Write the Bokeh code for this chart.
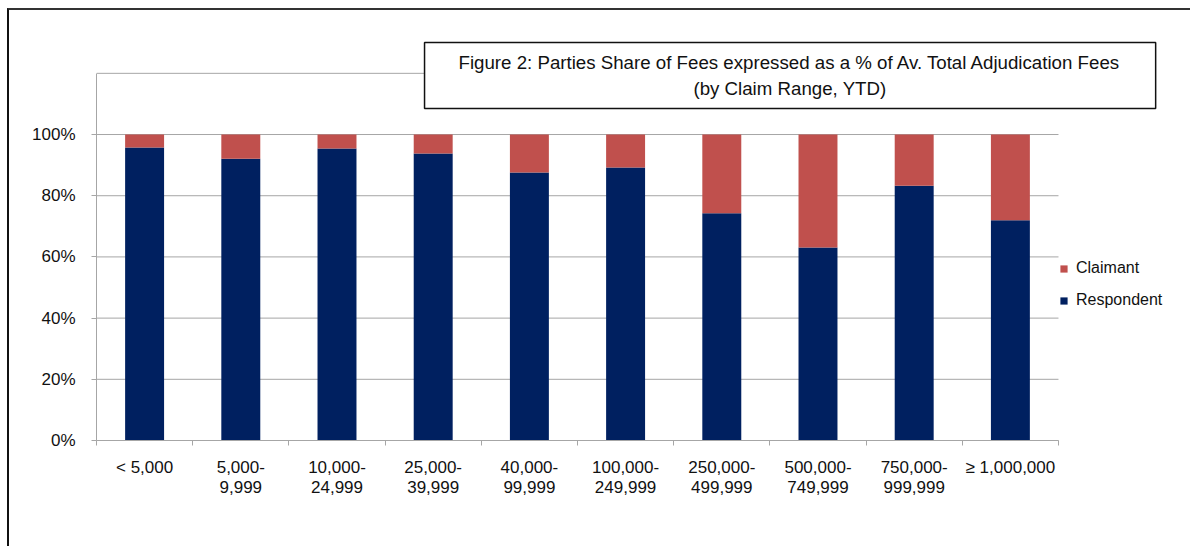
from bokeh.plotting import figure
from bokeh.models import (Range1d, FixedTicker, Legend, LegendItem, Label,
                          BoxAnnotation)
from bokeh.embed import file_html
from bokeh.resources import INLINE

# ---- data ----
categories = ["< 5,000", "5,000-\n9,999", "10,000-\n24,999", "25,000-\n39,999",
              "40,000-\n99,999", "100,000-\n249,999", "250,000-\n499,999",
              "500,000-\n749,999", "750,000-\n999,999", "\u2265 1,000,000"]
respondent = [95.8, 92.1, 95.4, 93.8, 87.6, 89.2, 74.3, 63.1, 83.3, 72.0]
claimant = [4.2, 7.9, 4.6, 6.2, 12.4, 10.8, 25.7, 36.9, 16.7, 28.0]
y_ticks = [0, 20, 40, 60, 80, 100]
grid_ticks = [0, 20, 40, 60, 80, 100, 120]
title_lines = ["Figure 2: Parties Share of Fees expressed as a % of Av. Total Adjudication Fees",
               "(by Claim Range, YTD)"]

FONT = "Liberation Sans"
NAVY = "#002060"
RED = "#C0504D"
GRID = "#a6a6a6"
TXT = "#111111"

n = len(categories)
xpos = [i + 0.5 for i in range(n)]
data = dict(x=xpos, Respondent=respondent, Claimant=claimant)

p = figure(width=1183, height=538, output_backend="svg", toolbar_location=None,
           x_range=Range1d(0, 11.393), y_range=Range1d(0, 134.0),
           min_border_left=87, min_border_right=0, min_border_top=20,
           min_border_bottom=108)
p.styles = {"border-top": "2px solid #333333", "border-left": "2px solid #111111",
            "margin-left": "7px", "margin-top": "8px"}
p.outline_line_color = None
p.background_fill_color = "white"
p.border_fill_color = "white"

# horizontal gridlines across the category span
p.segment(x0=[0] * len(grid_ticks), x1=[n] * len(grid_ticks), y0=grid_ticks,
          y1=grid_ticks, line_color=GRID, line_width=1, level="underlay")

rs = p.vbar_stack(["Respondent", "Claimant"], x="x", width=0.405, source=data,
                  color=[NAVY, RED], line_color=None)

# x axis
xa = p.xaxis[0]
xa.bounds = (0, n)
xa.ticker = FixedTicker(ticks=xpos, minor_ticks=list(range(n + 1)))
xa.major_label_overrides = {x: c for x, c in zip(xpos, categories)}
xa.major_tick_out = 0
xa.major_tick_in = 0
xa.minor_tick_out = 5
xa.minor_tick_in = 0
xa.minor_tick_line_color = GRID
xa.axis_line_color = GRID
xa.major_label_text_font = FONT
xa.major_label_text_font_size = "17px"
xa.major_label_text_line_height = 1.1
xa.major_label_text_color = TXT
xa.major_label_standoff = 12
xa.major_label_orientation = "horizontal"

# y axis
ya = p.yaxis[0]
ya.bounds = (0, 120)
ya.ticker = FixedTicker(ticks=y_ticks)
ya.major_label_overrides = {t: f"{t}%" for t in y_ticks}
ya.major_tick_out = 5
ya.major_tick_in = 0
ya.minor_tick_line_color = None
ya.major_tick_line_color = GRID
ya.axis_line_color = GRID
ya.major_label_text_font = FONT
ya.major_label_text_font_size = "17px"
ya.major_label_text_color = TXT
ya.major_label_standoff = 16

p.xgrid.grid_line_color = None
p.ygrid.grid_line_color = None

# legend
legend = Legend(items=[LegendItem(label="Claimant", renderers=[rs[1]]),
                       LegendItem(label="Respondent", renderers=[rs[0]])],
                location=(963, 131), orientation="vertical",
                glyph_width=9, glyph_height=9, label_height=17, spacing=14,
                label_standoff=8, padding=0, margin=0,
                border_line_color=None, background_fill_alpha=0,
                label_text_font=FONT, label_text_font_size="16px",
                label_text_color=TXT)
p.add_layout(legend, "center")

# title box
box = BoxAnnotation(left=3.41, right=11.01, top=130.07, bottom=108.5,
                    fill_color="white", fill_alpha=1.0, line_color="#111111",
                    line_width=1.5, line_alpha=1.0)
p.add_layout(box)
title = Label(x=7.209, y=119.3, x_units="data", y_units="data",
              text="\n".join(title_lines), text_align="center",
              text_baseline="middle", text_font=FONT, text_font_size="18.7px",
              text_line_height=1.2, text_color=TXT)
p.add_layout(title)

open("out.html", "w").write(file_html(p, INLINE))
